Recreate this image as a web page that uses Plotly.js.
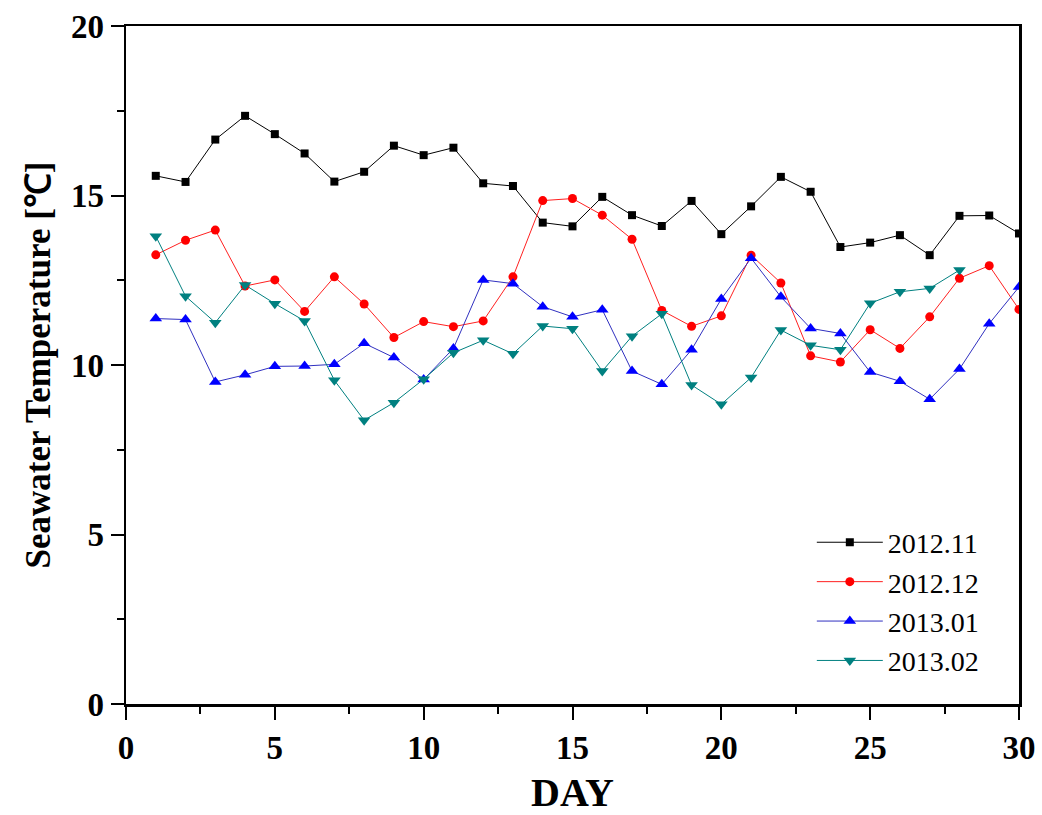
<!DOCTYPE html>
<html>
<head>
<meta charset="utf-8">
<script src="https://cdn.plot.ly/plotly-3.0.1.min.js"></script>
<style>html,body{margin:0;padding:0;background:#fff;}#chart{width:1042px;height:815px;}</style>
</head>
<body>
<div id="chart"></div>
<script>
const days = [1,2,3,4,5,6,7,8,9,10,11,12,13,14,15,16,17,18,19,20,21,22,23,24,25,26,27,28,29,30];
const daysFeb = days.slice(0, 28);
const nov2012 = [15.58,15.40,16.65,17.35,16.81,16.24,15.41,15.70,16.47,16.19,16.41,15.36,15.28,14.20,14.09,14.96,14.42,14.10,14.84,13.86,14.68,15.55,15.11,13.48,13.61,13.83,13.24,14.40,14.41,13.88];
const dec2012 = [13.25,13.68,13.98,12.33,12.51,11.58,12.60,11.80,10.81,11.28,11.13,11.30,12.60,14.85,14.91,14.42,13.71,11.61,11.14,11.45,13.24,12.42,10.27,10.09,11.04,10.49,11.42,12.56,12.93,11.64];
const jan2013 = [11.37,11.34,9.50,9.71,9.96,9.97,10.02,10.64,10.22,9.57,10.49,12.51,12.40,11.72,11.42,11.63,9.82,9.43,10.45,11.95,13.15,12.01,11.08,10.93,9.79,9.52,8.99,9.88,11.22,12.30];
const feb2013 = [13.80,12.03,11.25,12.36,11.81,11.30,9.55,8.37,8.89,9.58,10.36,10.73,10.33,11.15,11.07,9.82,10.85,11.51,9.41,8.84,9.63,11.03,10.58,10.45,11.82,12.16,12.26,12.80];
const seriesNames = ['2012.11','2012.12','2013.01','2013.02'];

const traces = [
  {x: days, y: nov2012, name: seriesNames[0], mode: 'lines+markers', line: {color: '#000000', width: 1}, marker: {symbol: 'square', size: 8, color: '#000000'}},
  {x: days, y: dec2012, name: seriesNames[1], mode: 'lines+markers', line: {color: '#ff2020', width: 1}, marker: {symbol: 'circle', size: 9, color: '#ff0000'}},
  {x: days, y: jan2013, name: seriesNames[2], mode: 'lines+markers', line: {color: '#3030c0', width: 1}, marker: {symbol: 'triangle-up', size: 11, color: '#0000ff'}},
  {x: daysFeb, y: feb2013, name: seriesNames[3], mode: 'lines+markers', line: {color: '#008080', width: 1}, marker: {symbol: 'triangle-down', size: 11, color: '#008080'}}
];

const serif = 'Liberation Serif, Times New Roman, serif';
const axisCommon = {
  showline: true, linecolor: '#000', linewidth: 2.5, mirror: true,
  showgrid: false, zeroline: false,
  ticks: 'outside', ticklen: 13, tickwidth: 2, tickcolor: '#000',
  tickfont: {family: serif, size: 33, color: '#000', weight: 'bold'}
};

const layout = {
  width: 1042, height: 815,
  margin: {l: 126, r: 23, t: 26, b: 111},
  paper_bgcolor: '#fff', plot_bgcolor: '#fff',
  showlegend: true,
  legend: {
    x: 0.768, y: 0.275, xanchor: 'left', yanchor: 'top',
    bgcolor: 'rgba(0,0,0,0)',
    font: {family: serif, size: 28, color: '#000'},
    itemwidth: 66
  },
  xaxis: Object.assign({}, axisCommon, {
    range: [0, 30], tickvals: [0,5,10,15,20,25,30], ticktext: ['0','5','10','15','20','25','30'],
    minor: {dtick: 2.5, tick0: 0, ticks: 'outside', ticklen: 7, tickwidth: 2, tickcolor: '#000'},
    title: {text: 'DAY', font: {family: serif, size: 40, color: '#000', weight: 'bold'}, standoff: 20}
  }),
  yaxis: Object.assign({}, axisCommon, {
    range: [0, 20], tickvals: [0,5,10,15,20], ticktext: ['0','5','10','15','20'],
    minor: {dtick: 2.5, tick0: 0, ticks: 'outside', ticklen: 7, tickwidth: 2, tickcolor: '#000'},
    title: {text: 'Seawater Temperature [℃]', font: {family: serif, size: 35, color: '#000', weight: 'bold'}, standoff: 10}
  })
};

Plotly.newPlot('chart', traces, layout, {staticPlot: true, displayModeBar: false});
</script>
</body>
</html>
